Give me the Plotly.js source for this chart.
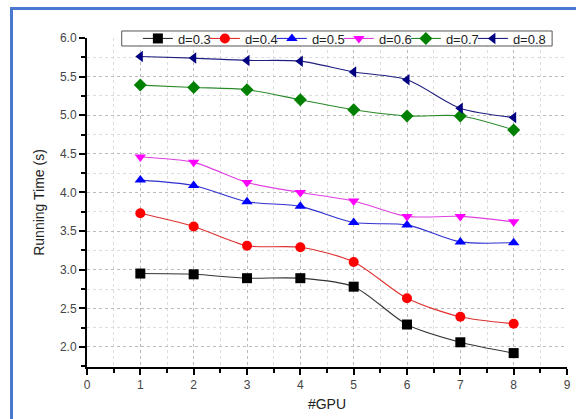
<!DOCTYPE html>
<html>
<head>
<meta charset="utf-8">
<script src="https://cdn.plot.ly/plotly-3.0.1.min.js"></script>
<style>
  html, body { margin: 0; padding: 0; background: #fff; }
  #wrap { position: relative; width: 576px; height: 419px; overflow: hidden; }
  #chart { position: absolute; left: 0; top: 0; width: 576px; height: 419px; }
  #frame { position: absolute; left: 10px; top: 7px; width: 600px; height: 450px;
           border: 3px solid #4a78cf; pointer-events: none; box-sizing: border-box; }
</style>
</head>
<body>
<div id="wrap"><div id="chart"></div><div id="frame"></div></div>
<script>
const gpus = [1, 2, 3, 4, 5, 6, 7, 8];
const seriesNames = ["d=0.3", "d=0.4", "d=0.5", "d=0.6", "d=0.7", "d=0.8"];
const d03 = [2.95, 2.94, 2.89, 2.89, 2.78, 2.29, 2.06, 1.92];
const d04 = [3.73, 3.56, 3.31, 3.29, 3.10, 2.63, 2.39, 2.30];
const d05 = [4.16, 4.09, 3.88, 3.82, 3.61, 3.58, 3.36, 3.35];
const d06 = [4.46, 4.39, 4.13, 4.00, 3.89, 3.69, 3.69, 3.62];
const d07 = [5.39, 5.36, 5.33, 5.20, 5.07, 4.99, 4.99, 4.81];
const d08 = [5.76, 5.74, 5.71, 5.70, 5.56, 5.46, 5.09, 4.97];
const xTickLabels = ["0","1","2","3","4","5","6","7","8","9"];

const values = [d03, d04, d05, d06, d07, d08];
const markerColors = ["#000000", "#ff0000", "#0000ff", "#ff00ff", "#008000", "#000080"];
const lineColors = ["#333333", "#e03030", "#3030d0", "#e040e0", "#2a8a2a", "#202080"];
const symbols = ["square", "circle", "triangle-up", "triangle-down", "diamond", "triangle-left"];

const traces = values.map((v, i) => ({
  x: gpus, y: v, name: seriesNames[i], type: "scatter", mode: "lines+markers",
  line: { color: lineColors[i], width: 1.1, shape: "spline", smoothing: 0.8 },
  marker: { color: markerColors[i], symbol: symbols[i], size: 10, line: { width: 0 } }
}));

const font = "Liberation Sans, Arial, sans-serif";
const layout = {
  width: 576, height: 419,
  margin: { l: 87, r: 9, t: 38, b: 52 },
  paper_bgcolor: "#ffffff", plot_bgcolor: "#ffffff",
  font: { family: font, color: "#333333", size: 12 },
  showlegend: true,
  legend: {
    orientation: "h", x: 0.106, y: 0.9985, xanchor: "left", yanchor: "middle",
    bgcolor: "rgba(0,0,0,0)", borderwidth: 0,
    font: { family: font, size: 13, color: "#222" },
    itemwidth: 30, entrywidth: 22, entrywidthmode: "pixels", tracegroupgap: 0
  },
  shapes: [{
    type: "rect", xref: "paper", yref: "paper", layer: "above",
    x0: 0.0723, x1: 0.969, y0: 0.9757, y1: 1.0213,
    fillcolor: "#ffffff", line: { color: "#555555", width: 1 }
  }],
  xaxis: {
    range: [0, 9], tickmode: "array", tickvals: xTickLabels.map(Number), ticktext: xTickLabels,
    showline: true, linecolor: "#000", linewidth: 2,
    ticks: "outside", ticklen: 6, tickwidth: 2, tickcolor: "#000",
    showgrid: true, gridcolor: "#bbbbbb", griddash: "dot", gridwidth: 1,
    zeroline: false, tickfont: { size: 12, color: "#444" },
    minor: { dtick: 0.5, tick0: 0, ticks: "outside", ticklen: 4, tickwidth: 2, tickcolor: "#000",
             showgrid: true, gridcolor: "#dddddd", griddash: "dot", gridwidth: 1 },
    title: { text: "#GPU", font: { size: 14, color: "#222" }, standoff: 8 }
  },
  yaxis: {
    range: [1.74, 6.0], tick0: 2, dtick: 0.5, tickformat: ".1f",
    showline: true, linecolor: "#000", linewidth: 2,
    ticks: "outside", ticklen: 6, tickwidth: 2, tickcolor: "#000",
    showgrid: true, gridcolor: "#bbbbbb", griddash: "dot", gridwidth: 1,
    zeroline: false, tickfont: { size: 12, color: "#444" },
    minor: { dtick: 0.25, tick0: 2, ticks: "outside", ticklen: 4, tickwidth: 2, tickcolor: "#000",
             showgrid: true, gridcolor: "#dddddd", griddash: "dot", gridwidth: 1 },
    title: { text: "Running Time (s)", font: { size: 14, color: "#222" }, standoff: 12 }
  }
};

Plotly.newPlot("chart", traces, layout, { displayModeBar: false, staticPlot: true }).then(() => {
  document.querySelectorAll("#chart .legend [clip-path]").forEach(e => e.removeAttribute("clip-path"));
});
</script>
</body>
</html>
